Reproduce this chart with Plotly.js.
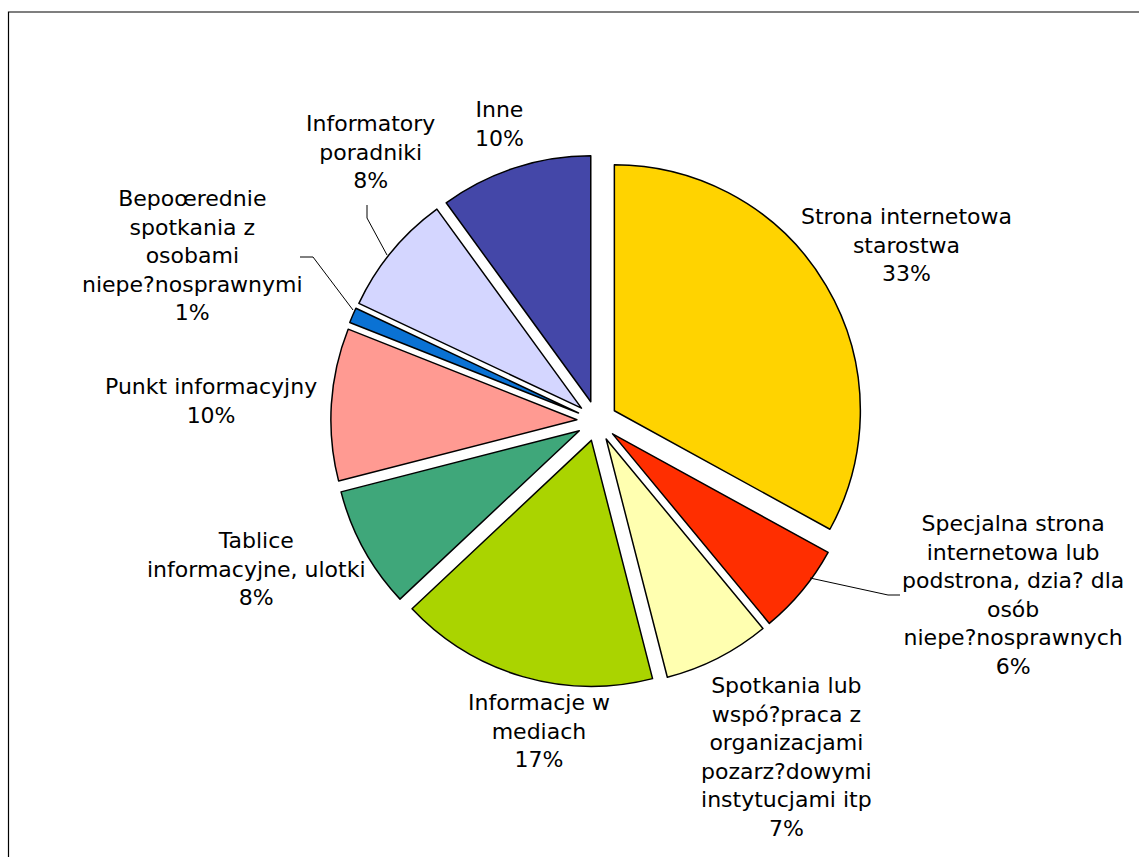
<!DOCTYPE html>
<html>
<head>
<meta charset="utf-8">
<script src="https://cdn.plot.ly/plotly-3.0.1.min.js"></script>
<style>html,body{margin:0;padding:0;background:#fff;}#chart{width:1139px;height:857px;}</style>
</head>
<body>
<div id="chart"></div>
<script>
// ---- data ----
const categories = [
  "Strona internetowa<br>starostwa",
  "Specjalna strona<br>internetowa lub<br>podstrona, dzia? dla<br>osób<br>niepe?nosprawnych",
  "Spotkania lub<br>wspó?praca z<br>organizacjami<br>pozarz?dowymi<br>instytucjami itp",
  "Informacje w<br>mediach",
  "Tablice<br>informacyjne, ulotki",
  "Punkt informacyjny",
  "Bepoœrednie<br>spotkania z<br>osobami<br>niepe?nosprawnymi",
  "Informatory<br>poradniki",
  "Inne"
];
const values = [33, 6, 7, 17, 8, 10, 1, 8, 10];
const colors = ["#FFD300", "#FF2E00", "#FFFFB0", "#AAD400", "#3FA77A", "#FF9A92", "#0A72D4", "#D4D6FF", "#4447A8"];

// label block centres (pixels) - layout only
const labelPos = [
  [906, 245], [1013, 595], [786, 757], [539, 731], [256, 569],
  [211, 401], [193, 256], [370, 152], [499, 124]
];

const W = 1139, H = 857;
const px = x => x / W;
const py = y => 1 - y / H;

const total = values.reduce((a, b) => a + b, 0);
const annotations = categories.map((c, i) => ({
  xref: 'paper', yref: 'paper',
  x: px(labelPos[i][0]), y: py(labelPos[i][1]),
  xanchor: 'center', yanchor: 'middle', align: 'center',
  showarrow: false,
  text: c + '<br>' + Math.round(values[i] / total * 100) + '%',
  font: {family: 'DejaVu Sans', size: 22, color: '#000'}
}));

// pie geometry
const cx = 597, cy = 421, R = 246, pull = 0.082;
const half = R * (1 + pull);

const leader = pts => ({
  type: 'path', xref: 'paper', yref: 'paper',
  path: 'M ' + pts.map(p => px(p[0]) + ',' + py(p[1])).join(' L '),
  line: {color: '#000', width: 1}
});

const shapes = [
  {type: 'rect', xref: 'paper', yref: 'paper', x0: px(8.5), y0: -0.02, x1: 1.02, y1: py(12),
   line: {color: '#000', width: 1.2}, fillcolor: 'rgba(0,0,0,0)'},
  leader([[367, 205], [367, 218], [387, 255]]),
  leader([[300, 257], [313, 257], [353, 310]]),
  leader([[810, 578], [888, 595], [900, 595]])
];

const trace = {
  type: 'pie',
  values: values,
  labels: categories,
  sort: false,
  direction: 'clockwise',
  rotation: 0,
  pull: values.map(() => pull),
  textinfo: 'none',
  hoverinfo: 'label+percent',
  marker: {colors: colors, line: {color: '#000', width: 1.5}},
  domain: {x: [px(cx - half), px(cx + half)], y: [1 - (cy + half) / H, 1 - (cy - half) / H]}
};

Plotly.newPlot('chart', [trace], {
  width: W, height: H,
  margin: {l: 0, r: 0, t: 0, b: 0},
  paper_bgcolor: '#fff',
  showlegend: false,
  annotations: annotations,
  shapes: shapes,
  font: {family: 'DejaVu Sans'}
}, {displayModeBar: false, staticPlot: true});
</script>
</body>
</html>
